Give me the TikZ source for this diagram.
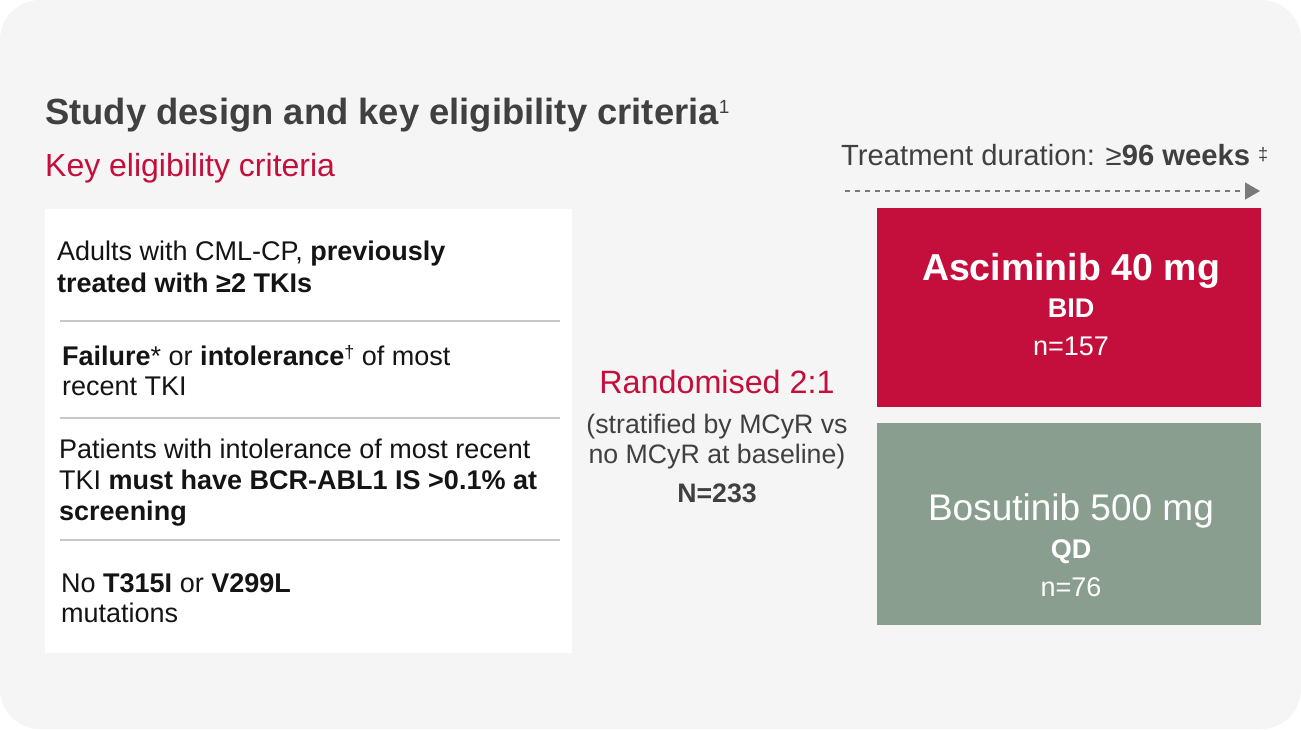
\documentclass[tikz,border=0pt]{standalone}
\usepackage{fontspec}
\setmainfont{Liberation Sans}
\usetikzlibrary{arrows.meta}
\definecolor{bgc}{HTML}{F5F5F5}
\definecolor{redc}{HTML}{C40E3C}
\definecolor{greenc}{HTML}{8A9E8F}
\definecolor{darkc}{HTML}{404040}
\definecolor{bodyc}{HTML}{141414}
\definecolor{sepc}{HTML}{C8C8C8}
\definecolor{arrc}{HTML}{7A7A7A}
\newcommand{\fs}[1]{\fontsize{#1}{#1}\selectfont}
\tikzset{
  txt/.style={inner sep=0pt, anchor=base west, text=bodyc, font=\fs{27}},
  ctxt/.style={inner sep=0pt, anchor=base, text=darkc, font=\fs{26.7}},
  wtxt/.style={inner sep=0pt, anchor=base, text=white, font=\fs{27}},
  sepline/.style={draw=sepc, line width=1.2pt},
}
\begin{document}
\begin{tikzpicture}[x=1pt,y=-1pt]
\useasboundingbox (0,0) rectangle (1301,729);
\fill[white] (0,0) rectangle (1301,729);
\fill[bgc, rounded corners=40pt] (0,0) rectangle (1301,729);

% title
\node[inner sep=0pt, anchor=base west, text=darkc, font=\fs{36.4}\bfseries] (title) at (45,124)
  {Study design and key eligibility criteria\raisebox{11pt}{\fs{19}\mdseries 1}};
\node[inner sep=0pt, anchor=base west, text=redc, font=\fs{32}] (sub) at (45,176) {Key eligibility criteria};

% treatment duration
\node[inner sep=0pt, anchor=base west, text=darkc, font=\fs{29.2}] (dur) at (841,165)
  {Treatment duration: ≥\textbf{96 weeks} \raisebox{5pt}{\fs{18}‡}};
\coordinate (as) at (845,191);
\coordinate (ae) at (1260,191);
\draw[arrc, line width=1.4pt, dash pattern=on 5pt off 5pt, -{Triangle[length=15pt,width=17pt]}] (as) -- (ae);

% criteria box
\fill[white] (45,209) rectangle (572,653);
\draw[sepline] (60,321) -- (560,321);
\draw[sepline] (60,418) -- (560,418);
\draw[sepline] (60,540) -- (560,540);

\node[txt] (c1a) at (57,260) {Adults with CML-CP, \textbf{previously}};
\node[txt] (c1b) at (57,292) {\textbf{treated with ≥2 TKIs}};
\node[txt] (c2a) at (62,365) {\textbf{Failure}* or \textbf{intolerance}\raisebox{7pt}{\fs{18}†} of most};
\node[txt] (c2b) at (62,395) {recent TKI};
\node[txt] (c3a) at (59,458) {Patients with intolerance of most recent};
\node[txt] (c3b) at (59,489) {TKI \textbf{must have BCR-ABL1 IS >0.1\% at}};
\node[txt] (c3c) at (59,520) {\textbf{screening}};
\node[txt] (c4a) at (61,592) {No \textbf{T315I} or \textbf{V299L}};
\node[txt] (c4b) at (61,622) {mutations};

% middle
\node[inner sep=0pt, anchor=base, text=redc, font=\fs{32.3}] (rand) at (717,393) {Randomised 2:1};
\node[ctxt] (strat1) at (717,433) {(stratified by MCyR vs};
\node[ctxt] (strat2) at (717,463) {no MCyR at baseline)};
\node[ctxt, font=\fs{26.7}\bfseries] (ntot) at (717,502) {N=233};

% arms
\fill[redc] (877,208) rectangle (1261,407);
\fill[greenc] (877,423) rectangle (1261,625);
\node[wtxt, font=\fs{37.5}\bfseries] (asc) at (1071,280) {Asciminib 40 mg};
\node[wtxt, font=\fs{27}\bfseries] (bid) at (1071,317) {BID};
\node[wtxt] (n1) at (1071,355) {n=157};
\node[wtxt, font=\fs{37}] (bos) at (1071,520) {Bosutinib 500 mg};
\node[wtxt, font=\fs{27}\bfseries] (qd) at (1071,558) {QD};
\node[wtxt] (n2) at (1071,596) {n=76};
\end{tikzpicture}
\end{document}
